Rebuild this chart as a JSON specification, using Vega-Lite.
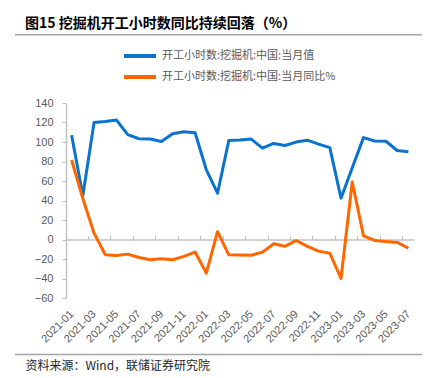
{
  "$schema": "https://vega.github.io/schema/vega-lite/v6.json",
  "autosize": "none",
  "width": 348,
  "height": 195,
  "padding": {"left": 66, "top": 103, "right": 29, "bottom": 80},
  "background": "white",
  "config": {
    "view": {"stroke": null},
    "font": "Liberation Sans"
  },
  "title": {
    "text": "图15 挖掘机开工小时数同比持续回落（%）",
    "anchor": "start",
    "frame": "group",
    "font": "Noto Sans CJK SC",
    "fontSize": 14,
    "fontWeight": "bold",
    "color": "#000000",
    "baseline": "middle",
    "offset": 0,
    "dx": -41,
    "dy": 4
  },
  "data": {
    "values": [
      {"month": "2021-01", "series": "开工小时数:挖掘机:中国:当月值", "value": 107},
      {"month": "2021-02", "series": "开工小时数:挖掘机:中国:当月值", "value": 45},
      {"month": "2021-03", "series": "开工小时数:挖掘机:中国:当月值", "value": 120},
      {"month": "2021-04", "series": "开工小时数:挖掘机:中国:当月值", "value": 121},
      {"month": "2021-05", "series": "开工小时数:挖掘机:中国:当月值", "value": 122.5},
      {"month": "2021-06", "series": "开工小时数:挖掘机:中国:当月值", "value": 107.5},
      {"month": "2021-07", "series": "开工小时数:挖掘机:中国:当月值", "value": 103.3},
      {"month": "2021-08", "series": "开工小时数:挖掘机:中国:当月值", "value": 103},
      {"month": "2021-09", "series": "开工小时数:挖掘机:中国:当月值", "value": 100.5},
      {"month": "2021-10", "series": "开工小时数:挖掘机:中国:当月值", "value": 108.5},
      {"month": "2021-11", "series": "开工小时数:挖掘机:中国:当月值", "value": 110.5},
      {"month": "2021-12", "series": "开工小时数:挖掘机:中国:当月值", "value": 109.5},
      {"month": "2022-01", "series": "开工小时数:挖掘机:中国:当月值", "value": 71.5},
      {"month": "2022-02", "series": "开工小时数:挖掘机:中国:当月值", "value": 47.5},
      {"month": "2022-03", "series": "开工小时数:挖掘机:中国:当月值", "value": 101.5},
      {"month": "2022-04", "series": "开工小时数:挖掘机:中国:当月值", "value": 102},
      {"month": "2022-05", "series": "开工小时数:挖掘机:中国:当月值", "value": 103},
      {"month": "2022-06", "series": "开工小时数:挖掘机:中国:当月值", "value": 93.7},
      {"month": "2022-07", "series": "开工小时数:挖掘机:中国:当月值", "value": 98.5},
      {"month": "2022-08", "series": "开工小时数:挖掘机:中国:当月值", "value": 96.4},
      {"month": "2022-09", "series": "开工小时数:挖掘机:中国:当月值", "value": 99.9},
      {"month": "2022-10", "series": "开工小时数:挖掘机:中国:当月值", "value": 101.9},
      {"month": "2022-11", "series": "开工小时数:挖掘机:中国:当月值", "value": 97.8},
      {"month": "2022-12", "series": "开工小时数:挖掘机:中国:当月值", "value": 94.2},
      {"month": "2023-01", "series": "开工小时数:挖掘机:中国:当月值", "value": 42.4},
      {"month": "2023-02", "series": "开工小时数:挖掘机:中国:当月值", "value": 73.5},
      {"month": "2023-03", "series": "开工小时数:挖掘机:中国:当月值", "value": 104.5},
      {"month": "2023-04", "series": "开工小时数:挖掘机:中国:当月值", "value": 101},
      {"month": "2023-05", "series": "开工小时数:挖掘机:中国:当月值", "value": 100.8},
      {"month": "2023-06", "series": "开工小时数:挖掘机:中国:当月值", "value": 91.3},
      {"month": "2023-07", "series": "开工小时数:挖掘机:中国:当月值", "value": 90},
      {"month": "2021-01", "series": "开工小时数:挖掘机:中国:当月同比%", "value": 81.5},
      {"month": "2021-02", "series": "开工小时数:挖掘机:中国:当月同比%", "value": 42},
      {"month": "2021-03", "series": "开工小时数:挖掘机:中国:当月同比%", "value": 6.5},
      {"month": "2021-04", "series": "开工小时数:挖掘机:中国:当月同比%", "value": -15.7},
      {"month": "2021-05", "series": "开工小时数:挖掘机:中国:当月同比%", "value": -16.4},
      {"month": "2021-06", "series": "开工小时数:挖掘机:中国:当月同比%", "value": -15},
      {"month": "2021-07", "series": "开工小时数:挖掘机:中国:当月同比%", "value": -18.4},
      {"month": "2021-08", "series": "开工小时数:挖掘机:中国:当月同比%", "value": -20.8},
      {"month": "2021-09", "series": "开工小时数:挖掘机:中国:当月同比%", "value": -19.7},
      {"month": "2021-10", "series": "开工小时数:挖掘机:中国:当月同比%", "value": -20.8},
      {"month": "2021-11", "series": "开工小时数:挖掘机:中国:当月同比%", "value": -17.3},
      {"month": "2021-12", "series": "开工小时数:挖掘机:中国:当月同比%", "value": -12.9},
      {"month": "2022-01", "series": "开工小时数:挖掘机:中国:当月同比%", "value": -34.5},
      {"month": "2022-02", "series": "开工小时数:挖掘机:中国:当月同比%", "value": 8},
      {"month": "2022-03", "series": "开工小时数:挖掘机:中国:当月同比%", "value": -15.7},
      {"month": "2022-04", "series": "开工小时数:挖掘机:中国:当月同比%", "value": -16},
      {"month": "2022-05", "series": "开工小时数:挖掘机:中国:当月同比%", "value": -16.2},
      {"month": "2022-06", "series": "开工小时数:挖掘机:中国:当月同比%", "value": -13},
      {"month": "2022-07", "series": "开工小时数:挖掘机:中国:当月同比%", "value": -4.4},
      {"month": "2022-08", "series": "开工小时数:挖掘机:中国:当月同比%", "value": -7},
      {"month": "2022-09", "series": "开工小时数:挖掘机:中国:当月同比%", "value": -1},
      {"month": "2022-10", "series": "开工小时数:挖掘机:中国:当月同比%", "value": -7},
      {"month": "2022-11", "series": "开工小时数:挖掘机:中国:当月同比%", "value": -11.9},
      {"month": "2022-12", "series": "开工小时数:挖掘机:中国:当月同比%", "value": -14},
      {"month": "2023-01", "series": "开工小时数:挖掘机:中国:当月同比%", "value": -40},
      {"month": "2023-02", "series": "开工小时数:挖掘机:中国:当月同比%", "value": 59},
      {"month": "2023-03", "series": "开工小时数:挖掘机:中国:当月同比%", "value": 3.8},
      {"month": "2023-04", "series": "开工小时数:挖掘机:中国:当月同比%", "value": -1},
      {"month": "2023-05", "series": "开工小时数:挖掘机:中国:当月同比%", "value": -2},
      {"month": "2023-06", "series": "开工小时数:挖掘机:中国:当月同比%", "value": -3},
      {"month": "2023-07", "series": "开工小时数:挖掘机:中国:当月同比%", "value": -9}
    ]
  },
  "resolve": {"scale": {"x": "independent"}, "axis": {"x": "independent"}},
  "layer": [
    {
      "mark": {"type": "rule", "strokeOpacity": 0},
      "encoding": {
        "x": {
          "field": "month",
          "type": "ordinal",
          "scale": {"type": "band", "paddingInner": 0, "paddingOuter": 0},
          "axis": {
            "orient": "bottom",
            "offset": -58.5,
            "title": null,
            "labels": false,
            "grid": false,
            "bandPosition": 0,
            "values": ["2021-03","2021-05","2021-07","2021-09","2021-11","2022-01","2022-03","2022-05","2022-07","2022-09","2022-11","2023-01","2023-03","2023-05","2023-07"],
            "domainColor": "#C0C0C0",
            "domainWidth": 1.5,
            "tickColor": "#C0C0C0",
            "tickWidth": 1,
            "tickSize": -4
          }
        },
        "y": {
          "datum": 0,
          "type": "quantitative",
          "scale": {"domain": [-60, 140], "nice": false, "zero": false},
          "axis": {
            "orient": "left",
            "title": null,
            "values": [-60, -40, -20, 0, 20, 40, 60, 80, 100, 120, 140],
            "labelOverlap": false,
            "grid": false,
            "domainColor": "#C0C0C0",
            "domainWidth": 1.5,
            "tickColor": "#C0C0C0",
            "tickSize": 4,
            "labelPadding": 9,
            "labelFont": "Liberation Sans",
            "labelFontSize": 11,
            "labelColor": "#595959"
          }
        },
        "y2": {"datum": 0}
      }
    },
    {
      "mark": {"type": "line", "strokeWidth": 3, "strokeJoin": "round"},
      "encoding": {
        "x": {
          "field": "month",
          "type": "ordinal",
          "scale": {"type": "point", "padding": 0.5},
          "axis": {
            "orient": "bottom",
            "values": ["2021-01","2021-03","2021-05","2021-07","2021-09","2021-11","2022-01","2022-03","2022-05","2022-07","2022-09","2022-11","2023-01","2023-03","2023-05","2023-07"],
            "domain": false,
            "ticks": false,
            "grid": false,
            "labelAngle": -45,
            "labelAlign": "right",
            "labelBaseline": "middle",
            "labelPadding": 14,
            "labelOverlap": false,
            "labelFont": "Liberation Sans",
            "labelFontSize": 11,
            "labelColor": "#595959",
            "title": "资料来源：Wind，联储证券研究院",
            "titleFont": "Noto Sans CJK SC",
            "titleFontSize": 12,
            "titleFontWeight": "normal",
            "titleColor": "#262626",
            "titleAlign": "left",
            "titleBaseline": "middle",
            "titleX": -41,
            "titleY": 67
          }
        },
        "y": {
          "field": "value",
          "type": "quantitative",
          "scale": {"domain": [-60, 140], "nice": false, "zero": false},
          "axis": {
            "orient": "left",
            "title": null,
            "values": [-60, -40, -20, 0, 20, 40, 60, 80, 100, 120, 140],
            "labelOverlap": false,
            "grid": false,
            "domainColor": "#C0C0C0",
            "domainWidth": 1.5,
            "tickColor": "#C0C0C0",
            "tickSize": 4,
            "labelPadding": 9,
            "labelFont": "Liberation Sans",
            "labelFontSize": 11,
            "labelColor": "#595959"
          }
        },
        "color": {
          "field": "series",
          "type": "nominal",
          "sort": ["开工小时数:挖掘机:中国:当月值", "开工小时数:挖掘机:中国:当月同比%"],
          "scale": {
            "domain": ["开工小时数:挖掘机:中国:当月值", "开工小时数:挖掘机:中国:当月同比%"],
            "range": ["#0A72CF", "#FF6600"]
          },
          "legend": {
            "orient": "none",
            "legendX": 56,
            "legendY": -53,
            "title": null,
            "symbolType": "stroke",
            "symbolSize": 1024,
            "symbolStrokeWidth": 4,
            "clipHeight": 12,
            "labelFont": "Noto Sans CJK SC",
            "labelFontSize": 11,
            "labelColor": "#595959",
            "labelOffset": 4,
            "labelLimit": 400,
            "rowPadding": 9
          }
        }
      }
    },
    {
      "data": {"values": [{}]},
      "mark": {"type": "rule", "color": "#A6A6A6", "strokeWidth": 1.5},
      "encoding": {
        "x": {"datum": 0, "type": "quantitative", "scale": {"domain": [0, 1], "range": [-51, 356]}, "axis": null},
        "x2": {"datum": 1},
        "y": {
          "datum": 210,
          "type": "quantitative",
          "axis": {
            "orient": "left",
            "title": null,
            "values": [-60, -40, -20, 0, 20, 40, 60, 80, 100, 120, 140],
            "labelOverlap": false,
            "grid": false,
            "domainColor": "#C0C0C0",
            "domainWidth": 1.5,
            "tickColor": "#C0C0C0",
            "tickSize": 4,
            "labelPadding": 9,
            "labelFont": "Liberation Sans",
            "labelFontSize": 11,
            "labelColor": "#595959"
          }
        }
      }
    },
    {
      "data": {"values": [{}]},
      "mark": {"type": "rule", "color": "#A6A6A6", "strokeWidth": 1.5},
      "encoding": {
        "x": {"datum": 0, "type": "quantitative", "scale": {"domain": [0, 1], "range": [-51, 356]}, "axis": null},
        "x2": {"datum": 1},
        "y": {
          "datum": -118,
          "type": "quantitative",
          "axis": {
            "orient": "left",
            "title": null,
            "values": [-60, -40, -20, 0, 20, 40, 60, 80, 100, 120, 140],
            "labelOverlap": false,
            "grid": false,
            "domainColor": "#C0C0C0",
            "domainWidth": 1.5,
            "tickColor": "#C0C0C0",
            "tickSize": 4,
            "labelPadding": 9,
            "labelFont": "Liberation Sans",
            "labelFontSize": 11,
            "labelColor": "#595959"
          }
        }
      }
    }
  ]
}
